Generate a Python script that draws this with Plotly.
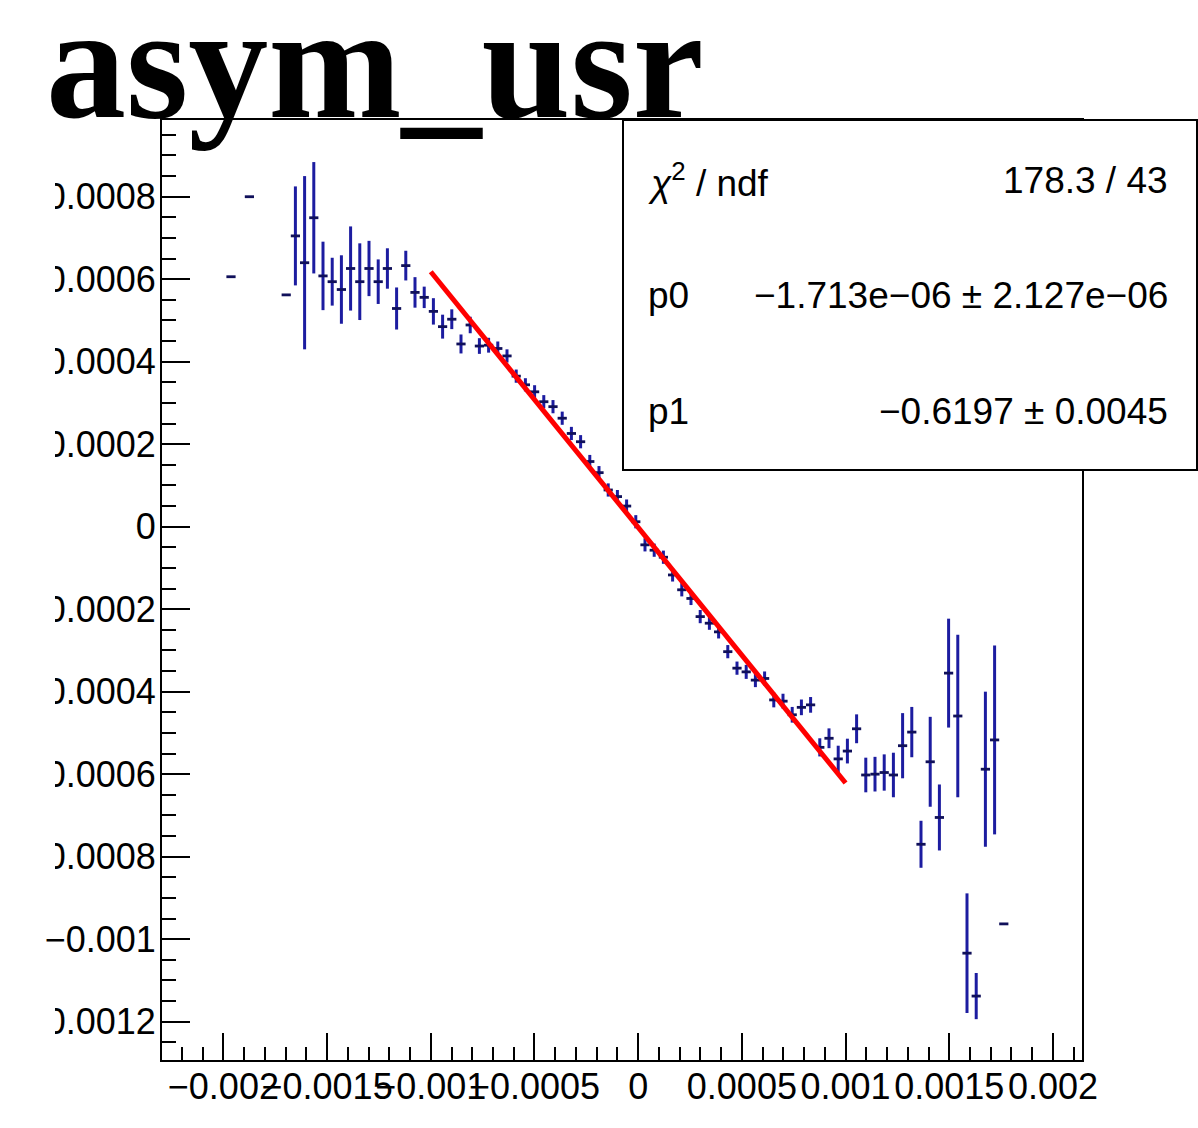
import plotly.graph_objects as go

# ---- histogram contents: bin centres, asymmetry and its uncertainty ----
bin_center = [
    -0.0019633, -0.0018746, -0.0016971, -0.0016528, -0.0016084, -0.0015641,
    -0.0015197, -0.0014753, -0.0014310, -0.0013866, -0.0013423, -0.0012979,
    -0.0012535, -0.0012092, -0.0011648, -0.0011205, -0.0010761, -0.0010317,
    -0.0009874, -0.0009430, -0.0008987, -0.0008543, -0.0008099, -0.0007656,
    -0.0007212, -0.0006769, -0.0006325, -0.0005881, -0.0005438, -0.0004994,
    -0.0004551, -0.0004107, -0.0003663, -0.0003220, -0.0002776, -0.0002333,
    -0.0001889, -0.0001445, -0.0001002, -0.0000558, -0.0000115, 0.0000329,
    0.0000773, 0.0001216, 0.0001660, 0.0002103, 0.0002547, 0.0002991,
    0.0003434, 0.0003878, 0.0004321, 0.0004765, 0.0005209, 0.0005652,
    0.0006096, 0.0006539, 0.0006983, 0.0007427, 0.0007870, 0.0008314,
    0.0008757, 0.0009201, 0.0009645, 0.0010088, 0.0010532, 0.0010975,
    0.0011419, 0.0011863, 0.0012306, 0.0012750, 0.0013193, 0.0013637,
    0.0014081, 0.0014524, 0.0014968, 0.0015411, 0.0015855, 0.0016299,
    0.0016742, 0.0017186, 0.0017629,
]
asym = [
    0.000606, 0.000800, 0.000562, 0.000705, 0.000640, 0.000749,
    0.000608, 0.000594, 0.000575, 0.000626, 0.000594, 0.000626,
    0.000594, 0.000626, 0.000529, 0.000633, 0.000568, 0.000556,
    0.000522, 0.000485, 0.000503, 0.000443, 0.000489, 0.000438,
    0.000440, 0.000432, 0.000414, 0.000365, 0.000344, 0.000327,
    0.000303, 0.000291, 0.000263, 0.000226, 0.000206, 0.000158,
    0.000131, 0.000089, 0.000073, 0.000050, 0.000012, -0.000044,
    -0.000057, -0.000074, -0.000117, -0.000153, -0.000174, -0.000218,
    -0.000234, -0.000255, -0.000303, -0.000343, -0.000352, -0.000372,
    -0.000368, -0.000420, -0.000423, -0.000456, -0.000438, -0.000432,
    -0.000535, -0.000513, -0.000563, -0.000544, -0.000490, -0.000602,
    -0.000600, -0.000596, -0.000602, -0.000531, -0.000498, -0.000770,
    -0.000570, -0.000705, -0.000355, -0.000459, -0.001034, -0.001138,
    -0.000588, -0.000517, -0.000963,
]
asym_err = [
    0.0, 0.0, 0.0, 0.000120, 0.000210, 0.000135,
    0.000083, 0.000058, 0.000083, 0.000102, 0.000093, 0.000067,
    0.000054, 0.000049, 0.000051, 0.000036, 0.000037, 0.000026,
    0.000032, 0.000029, 0.000024, 0.000023, 0.000020, 0.000019,
    0.000018, 0.000017, 0.000016, 0.000016, 0.000016, 0.000016,
    0.000016, 0.000016, 0.000016, 0.000016, 0.000016, 0.000016,
    0.000016, 0.000016, 0.000016, 0.000016, 0.000016, 0.000016,
    0.000016, 0.000016, 0.000016, 0.000016, 0.000016, 0.000016,
    0.000016, 0.000016, 0.000016, 0.000016, 0.000017, 0.000017,
    0.000017, 0.000018, 0.000018, 0.000019, 0.000019, 0.000019,
    0.000022, 0.000024, 0.000032, 0.000030, 0.000035, 0.000042,
    0.000042, 0.000044, 0.000054, 0.000079, 0.000061, 0.000057,
    0.000109, 0.000080, 0.000132, 0.000197, 0.000145, 0.000056,
    0.000188, 0.000229, 0.0,
]
bin_width = 0.00004436

# ---- linear fit result (pol1) ----
p0, p0_err = -1.713e-06, 2.127e-06
p1, p1_err = -0.6197, 0.0045
chi2, ndf = 178.3, 43
fit_range = [-0.001, 0.001]

# ---- axes ----
x_range = [-0.002296, 0.002140]
y_range = [-0.001293, 0.000986]
x_ticks = [-0.002, -0.0015, -0.001, -0.0005, 0.0, 0.0005, 0.001, 0.0015, 0.002]
x_ticktext = ["\u22120.002", "\u22120.0015", "\u22120.001", "\u22120.0005", "0",
              "0.0005", "0.001", "0.0015", "0.002"]
y_ticks = [-0.0012, -0.001, -0.0008, -0.0006, -0.0004, -0.0002, 0.0,
           0.0002, 0.0004, 0.0006, 0.0008]
y_ticktext = ["\u22120.0012", "\u22120.001", "\u22120.0008", "\u22120.0006",
              "\u22120.0004", "\u22120.0002", "0", "0.0002", "0.0004",
              "0.0006", "0.0008"]

title = "asym_usr"

# canvas geometry (pixels)
W, H = 1198, 1128
L, R, T, B = 162, 1082, 120, 1060


def px_x(px):
    return (px - L) / (R - L)


def px_y(py):
    return (B - py) / (B - T)


SANS = "Liberation Sans, Arial, Helvetica, sans-serif"
BLUE = "#1c1ca0"
NAVY = "#10105a"

fig = go.Figure()

fig.add_trace(go.Scatter(
    x=bin_center, y=asym, mode="markers",
    marker=dict(size=0, color=NAVY, opacity=0),
    error_x=dict(type="constant", value=bin_width / 2, thickness=2.8,
                 width=0, color=NAVY),
    error_y=dict(type="data", array=asym_err, thickness=3,
                 width=0, color=BLUE),
    showlegend=False, hoverinfo="skip",
))

fit_y = [p0 + p1 * x for x in fit_range]
fig.add_trace(go.Scatter(
    x=fit_range, y=fit_y, mode="lines",
    line=dict(color="#ff0000", width=5),
    showlegend=False, hoverinfo="skip",
))

axis_common = dict(
    showgrid=False, zeroline=False, showline=True, linecolor="black",
    linewidth=2, mirror=True, ticks="inside", tickcolor="black",
    tickwidth=2, tickangle=0,
    tickfont=dict(family=SANS, size=36, color="black"),
)

fig.update_xaxes(
    range=x_range, tickmode="array", tickvals=x_ticks, ticktext=x_ticktext,
    ticklen=27, ticklabelstandoff=-6,
    minor=dict(ticks="inside", ticklen=13, tickwidth=2, tickcolor="black",
               tickmode="linear", tick0=0, dtick=0.0001, showgrid=False),
    **axis_common,
)
fig.update_yaxes(
    range=y_range, tickmode="array", tickvals=y_ticks, ticktext=y_ticktext,
    ticklen=28, ticklabelstandoff=-3,
    minor=dict(ticks="inside", ticklen=14, tickwidth=2, tickcolor="black",
               tickmode="linear", tick0=0, dtick=0.00005, showgrid=False),
    **axis_common,
)

shapes = [
    # canvas edge trimming the long y labels
    dict(type="rect", xref="paper", yref="paper", layer="above",
         x0=px_x(-5), x1=px_x(55), y0=px_y(160), y1=px_y(922),
         fillcolor="white", line=dict(width=0)),
    dict(type="rect", xref="paper", yref="paper", layer="above",
         x0=px_x(-5), x1=px_x(55), y0=px_y(958), y1=px_y(1070),
         fillcolor="white", line=dict(width=0)),
    # fit statistics box
    dict(type="rect", xref="paper", yref="paper", layer="above",
         x0=px_x(623), x1=px_x(1197), y0=px_y(470), y1=px_y(120),
         fillcolor="white", line=dict(color="black", width=2)),
]

stat_rows = [
    ("<i>\u03c7</i><sup>2</sup> / ndf", f"{chi2:.1f} / {ndf}", 180),
    ("p0", f"{p0:.3e} \u00b1 {p0_err:.3e}".replace("-", "\u2212"), 295),
    ("p1", f"{p1:.4f} \u00b1 {p1_err:.4f}".replace("-", "\u2212"), 411),
]

annotations = [
    dict(text=f"<b>{title}</b>", xref="paper", yref="paper",
         x=px_x(44), y=px_y(118 + 0.216 * 160 + 1), xanchor="left",
         yanchor="bottom", showarrow=False,
         font=dict(family="Liberation Serif, Times New Roman, serif",
                   size=160, color="black")),
]
for left, right, yc in stat_rows:
    annotations.append(dict(
        text=left, xref="paper", yref="paper", x=px_x(646), y=px_y(yc),
        xanchor="left", yanchor="middle", showarrow=False,
        font=dict(family=SANS, size=37, color="black")))
    annotations.append(dict(
        text=right, xref="paper", yref="paper", x=px_x(1170), y=px_y(yc),
        xanchor="right", yanchor="middle", showarrow=False,
        font=dict(family=SANS, size=37, color="black")))

fig.update_layout(
    width=W, height=H, autosize=False,
    margin=dict(l=L, r=W - R, t=T, b=H - B, pad=0),
    paper_bgcolor="white", plot_bgcolor="white",
    shapes=shapes, annotations=annotations,
    showlegend=False,
)

fig.write_html("out.html")
